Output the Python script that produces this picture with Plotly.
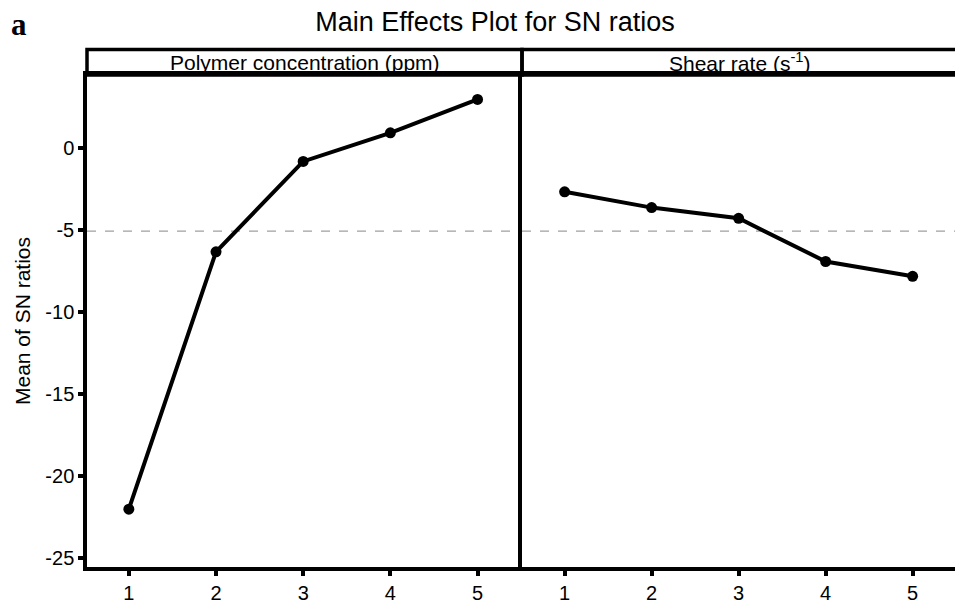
import plotly.graph_objects as go

levels = [1, 2, 3, 4, 5]
polymer_sn = [-22.0, -6.34, -0.84, 0.9, 2.93]
shear_sn = [-2.69, -3.65, -4.3, -6.93, -7.83]
panel_titles = ["Polymer concentration (ppm)", "Shear rate (s<sup>-1</sup>)"]
y_ticks = [0, -5, -10, -15, -20, -25]
y_ticktext = ["0", "-5", "-10", "-15", "-20", "-25"]

grand_mean = (sum(polymer_sn) + sum(shear_sn)) / (len(polymer_sn) + len(shear_sn))

# page body has an 8px margin, so the figure is sized/offset to compensate
W, H_fig = 955, 598
ML, MR, MT, MB = 79, 2, 67, 29
PW = W - ML - MR
PH = H_fig - MT - MB
FONT = "Liberation Sans, Arial"

fig = go.Figure()
for i, vals in enumerate([polymer_sn, shear_sn]):
    ax = "" if i == 0 else str(i + 1)
    fig.add_trace(go.Scatter(x=levels, y=vals, mode="lines+markers",
                             line=dict(color="black", width=4),
                             marker=dict(color="black", size=11),
                             xaxis="x" + ax, yaxis="y" + ax, showlegend=False))
    fig.add_shape(type="line", xref=f"x{ax} domain", yref="y" + ax,
                  x0=0, x1=1, y0=grand_mean, y1=grand_mean,
                  line=dict(color="#a0a0a0", width=1.3, dash="dash"), layer="below")

hdr = 26 / PH
for i, t in enumerate(panel_titles):
    x0 = 0.5 * i
    fig.add_shape(type="rect", xref="paper", yref="paper", x0=x0, x1=x0 + 0.5,
                  y0=1, y1=1 + hdr, line=dict(color="black", width=3.5))
    fig.add_annotation(text=t, xref="paper", yref="paper", x=x0 + 0.25, y=1 + hdr / 2,
                       showarrow=False, font=dict(family=FONT, size=21, color="black"),
                       xanchor="center", yanchor="middle")

fig.add_annotation(text="<b>a</b>", xref="paper", yref="paper", x=(1 - ML) / PW,
                   y=1 + (MT - 15) / PH, showarrow=False, xanchor="left", yanchor="middle",
                   height=28, valign="middle",
                   font=dict(family="Liberation Serif", size=31, color="black"))

axis_common = dict(showline=True, linewidth=3.5, linecolor="black",
                   showgrid=False, zeroline=False, ticklen=5,
                   tickwidth=3.5, tickcolor="black",
                   tickfont=dict(family=FONT, size=20, color="black"))

fig.update_layout(
    width=W, height=H_fig,
    margin=dict(l=ML, r=MR, t=MT, b=MB),
    plot_bgcolor="white", paper_bgcolor="white",
    title=dict(text="Main Effects Plot for SN ratios", x=487 / W, xanchor="center",
               y=1 - 14 / H_fig, yanchor="middle",
               font=dict(family=FONT, size=27, color="black")),
    xaxis=dict(domain=[0, 0.5], range=[0.52, 5.51], tickvals=levels, ticks="outside",
               mirror=True, **axis_common),
    xaxis2=dict(domain=[0.5, 1], range=[0.51, 5.51], tickvals=levels, anchor="y2",
                ticks="outside", mirror=True, **axis_common),
    yaxis=dict(range=[-25.52, 4.42], tickvals=y_ticks, ticktext=y_ticktext,
               ticks="outside", mirror=False,
               title=dict(text="Mean of SN ratios", standoff=10,
                          font=dict(family=FONT, size=21, color="black")),
               **axis_common),
    yaxis2=dict(range=[-25.52, 4.42], anchor="x2", matches="y", showticklabels=False,
                ticks="", mirror=True, **axis_common),
)

fig.write_html("out.html")
